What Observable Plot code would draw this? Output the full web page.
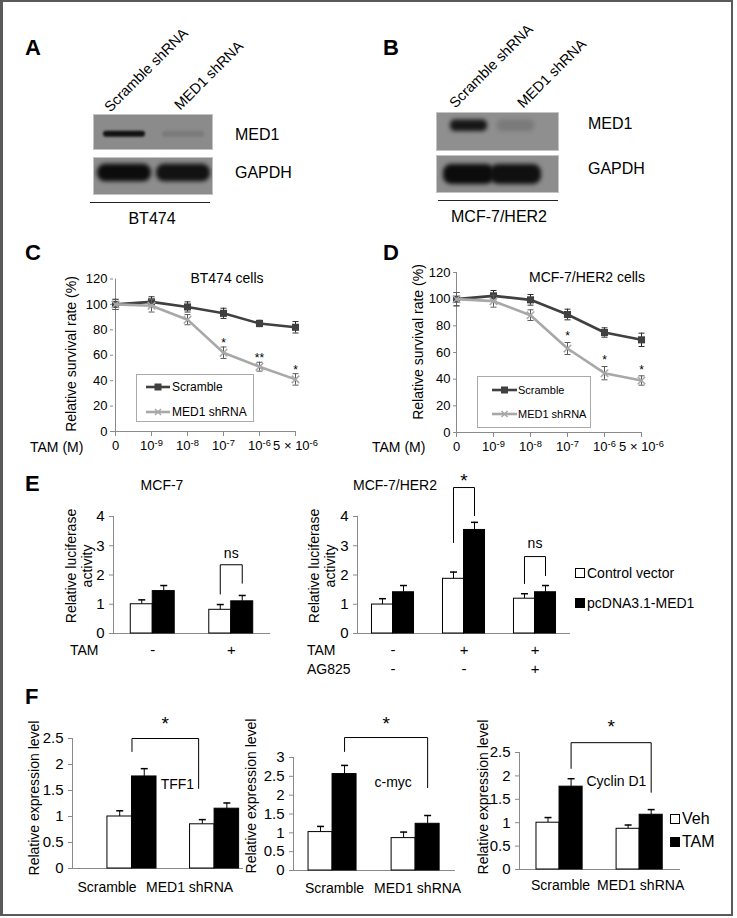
<!DOCTYPE html>
<html>
<head>
<meta charset="utf-8">
<script src="https://cdn.jsdelivr.net/npm/d3@7"></script>
<script src="https://cdn.jsdelivr.net/npm/@observablehq/plot@0.6"></script>
<style>
html,body{margin:0;padding:0;background:#fff;}
#fig{position:relative;width:737px;height:918px;overflow:hidden;background:#fff;font-family:"Liberation Sans",Arial,Helvetica,sans-serif;color:#000;}
#frame{position:absolute;left:0;top:0;width:733px;height:916px;box-sizing:border-box;border-left:3px solid #5a5a5a;border-top:2px solid #5a5a5a;border-right:2px solid #5a5a5a;border-bottom:2px solid #5a5a5a;}
.abs{position:absolute;}
.t{position:absolute;white-space:nowrap;line-height:1;}
#fig svg g[aria-label="y-axis tick"], #fig svg g[aria-label="x-axis tick"]{stroke:#8a8a8a;}
#fig svg g[aria-label="y-axis"] .tick line, #fig svg g[aria-label="x-axis"] .tick line{stroke:#8a8a8a;}
#fig svg g[aria-label="y-axis"] .domain, #fig svg g[aria-label="x-axis"] .domain{display:none;}
</style>
</head>
<body>
<div id="fig"><div id="frame"></div></div>
<script>
// ================= DATA =================
// A / B western blots (relative band intensity per lane)
const blotLanes = ["Scramble shRNA", "MED1 shRNA"];
const bt474Med1Band = [0.95, 0.12];
const bt474GapdhBand = [1.0, 0.96];
const her2Med1Band = [0.92, 0.16];
const her2GapdhBand = [1.0, 0.97];

// C / D survival curves
const tamDoses = ["0", "10⁻⁹", "10⁻⁸", "10⁻⁷", "10⁻⁶", "5 × 10⁻⁶"];
const survivalTicks = [0, 20, 40, 60, 80, 100, 120];
const bt474Scramble = [100, 102, 98, 93, 85, 82];
const bt474ScrambleErr = [4, 4, 4, 4, 2.5, 4.5];
const bt474Med1 = [100, 99, 88, 62, 51, 41];
const bt474Med1Err = [4, 5, 4, 4.5, 3.5, 4.5];
const bt474Sig = ["", "", "", "*", "**", "*"];
const her2Scramble = [100, 102.5, 99.5, 88.5, 75, 69.5];
const her2ScrambleErr = [5, 4, 4, 4, 3.5, 5];
const her2Med1 = [100, 98.5, 88, 63, 44.5, 39];
const her2Med1Err = [5, 4.5, 4, 4.5, 5, 3.5];
const her2Sig = ["", "", "", "*", "*", "*"];

// E luciferase
const lucTicks = [0, 1, 2, 3, 4];
const mcf7Tam = ["-", "+"];
const mcf7Control = [1.0, 0.81];
const mcf7ControlErr = [0.15, 0.18];
const mcf7Med1 = [1.45, 1.1];
const mcf7Med1Err = [0.19, 0.2];
const her2Tam = ["-", "+", "+"];
const her2AG825 = ["-", "-", "+"];
const her2Control = [0.99, 1.87, 1.19];
const her2ControlErr = [0.2, 0.23, 0.17];
const her2Pc = [1.41, 3.54, 1.41];
const her2PcErr = [0.23, 0.26, 0.23];

// F qPCR
const fGroups = ["Scramble", "MED1 shRNA"];
const tff1Veh = [1.0, 0.85], tff1VehErr = [0.11, 0.09];
const tff1Tam = [1.77, 1.15], tff1TamErr = [0.15, 0.11];
const mycVeh = [1.02, 0.86], mycVehErr = [0.15, 0.16];
const mycTam = [2.56, 1.24], mycTamErr = [0.23, 0.22];
const ccnd1Veh = [1.0, 0.87], ccnd1VehErr = [0.11, 0.08];
const ccnd1Tam = [1.77, 1.17], ccnd1TamErr = [0.17, 0.11];
const exprTicks25 = [0, 0.5, 1, 1.5, 2, 2.5];
const exprTicks3 = [0, 0.5, 1, 1.5, 2, 2.5, 3];

// ================= HELPERS =================
const AX = "#8a8a8a";
const FONT = '"Liberation Sans", Arial, Helvetica, sans-serif';
const fig = document.getElementById("fig");
const cap = { draw(ctx, size) { const w = Math.sqrt(size / Math.PI); ctx.moveTo(-w, 0); ctx.lineTo(w, 0); } };
const SUP = {"⁻": "-", "⁰": "0", "¹": "1", "²": "2", "³": "3", "⁴": "4", "⁵": "5", "⁶": "6", "⁷": "7", "⁸": "8", "⁹": "9"};

function frame(left, top, width, height, x0, x1, yTop, yZero) {
  return { width, height, marginLeft: x0 - left, marginRight: left + width - x1, marginTop: yTop - top, marginBottom: top + height - yZero };
}
function place(node, left, top, width) {
  const d = document.createElement("div");
  d.className = "abs";
  d.style.left = left + "px"; d.style.top = top + "px"; d.style.width = width + "px";
  d.appendChild(node); fig.appendChild(d); return d;
}
// turn unicode superscripts in tick labels into real raised tspans
function raiseSuperscripts(svg) {
  svg.querySelectorAll("text").forEach(t => {
    const s = t.textContent;
    const m = s.match(/^(.*?)([⁻⁰¹²³⁴⁵⁶⁷⁸⁹]+)$/);
    if (!m) return;
    t.textContent = m[1];
    const sp = document.createElementNS("http://www.w3.org/2000/svg", "tspan");
    sp.setAttribute("dy", "-0.45em");
    sp.setAttribute("font-size", "0.72em");
    sp.textContent = [...m[2]].map(c => SUP[c]).join("");
    t.appendChild(sp);
  });
}
function txt(content, x, y, o = {}) {
  const d = document.createElement("div");
  d.className = "t";
  d.innerHTML = content;
  d.style.fontSize = (o.size || 14) + "px";
  if (o.bold) d.style.fontWeight = "bold";
  if (o.lh) { d.style.lineHeight = o.lh + "px"; d.style.textAlign = "center"; }
  d.style.left = x + "px"; d.style.top = y + "px";
  const tx = o.anchor === "start" ? "0" : o.anchor === "end" ? "-100%" : "-50%";
  d.style.transform = `translate(${tx},-50%)` + (o.rotate ? ` rotate(${o.rotate}deg)` : "");
  fig.appendChild(d); return d;
}
function slanted(content, bx, by, size) {
  const d = document.createElement("div");
  d.className = "t";
  d.textContent = content;
  d.style.fontSize = size + "px";
  d.style.left = bx + "px"; d.style.top = (by - size) + "px";
  d.style.transformOrigin = "0 100%";
  d.style.transform = "rotate(-45deg)";
  fig.appendChild(d);
}

function blot(bandVals, o) {
  const marks = blotLanes.map((lane, i) => Plot.barY([{lane}], {
    x: "lane", y1: o.center - o.thick / 2, y2: o.center + o.thick / 2,
    fill: "#0c0c0c", fillOpacity: bandVals[i], insetLeft: o.inset, insetRight: o.inset, rx: o.rx
  }));
  const svg = Plot.plot({
    width: o.w, height: o.h, marginTop: 0, marginRight: 0, marginBottom: 0, marginLeft: 0,
    x: {type: "band", domain: blotLanes, paddingInner: o.pi, paddingOuter: o.po, align: o.align, axis: null},
    y: {domain: [0, 1], axis: null},
    style: {background: o.bg, overflow: "hidden", outline: "1px solid #c4c4c4", outlineOffset: "-1px"},
    marks
  });
  svg.querySelectorAll("rect").forEach(r => r.style.filter = `blur(${o.blur}px)`);
  place(svg, o.left, o.top, o.w);
}

function survival(o) {
  const S = o.scr.map((v, i) => ({dose: tamDoses[i], v, e: o.scrErr[i]}));
  const M = o.med.map((v, i) => ({dose: tamDoses[i], v, e: o.medErr[i], sig: o.sig[i]}));
  const errMarks = (D, color) => [
    Plot.ruleX(D, {x: "dose", y1: d => d.v - d.e, y2: d => d.v + d.e, stroke: color, strokeWidth: 1}),
    Plot.dot(D, {x: "dose", y: d => d.v - d.e, symbol: cap, r: 3, stroke: color, fill: "none", strokeWidth: 1}),
    Plot.dot(D, {x: "dose", y: d => d.v + d.e, symbol: cap, r: 3, stroke: color, fill: "none", strokeWidth: 1})
  ];
  const svg = Plot.plot({
    ...frame(o.left, o.top, o.width, o.height, o.x0, o.x1, o.yTop, o.yZero),
    style: {background: "transparent", fontFamily: FONT, fontSize: "13px", color: "#000", overflow: "visible"},
    x: {type: "point", domain: tamDoses, padding: 0, tickSize: 5, tickPadding: 4, label: null},
    y: {domain: [0, 120], ticks: survivalTicks, tickSize: 3, tickPadding: 3, label: null},
    marks: [
      Plot.ruleY([0], {stroke: AX}),
      Plot.ruleX([tamDoses[0]], {y1: 0, y2: 120, stroke: AX}),
      ...errMarks(S, "#2e2e2e"),
      Plot.line(S, {x: "dose", y: "v", stroke: "#404040", strokeWidth: 2.6}),
      Plot.dot(S, {x: "dose", y: "v", symbol: "square", r: 4, fill: "#404040", stroke: "none"}),
      ...errMarks(M, "#5c5c5c"),
      Plot.line(M, {x: "dose", y: "v", stroke: "#a8a8a8", strokeWidth: 2.6}),
      Plot.dot(M, {x: "dose", y: "v", symbol: "times", r: 3.5, stroke: "#a8a8a8", strokeWidth: 1.5}),
      Plot.text(M, {x: "dose", y: d => d.v + d.e, text: "sig", dy: o.starDy, fontSize: 12})
    ]
  });
  raiseSuperscripts(svg);
  place(svg, o.left, o.top, o.width);
}

function bars(o) {
  const rows = [];
  o.veh.forEach((v, i) => {
    rows.push({g: i, s: 0, v, e: o.vehErr[i], x1: i - o.bw, x2: i, xc: i - o.bw / 2});
    rows.push({g: i, s: 1, v: o.trt[i], e: o.trtErr[i], x1: i, x2: i + o.bw, xc: i + o.bw / 2});
  });
  const bpts = [], blabels = [];
  o.brackets.forEach((b, k) => {
    const xa = b.g[0] + b.sh[0] * o.bw, xb = b.g[1] + b.sh[1] * o.bw;
    bpts.push({id: k, x: xa, y: b.lo[0]}, {id: k, x: xa, y: b.top}, {id: k, x: xb, y: b.top}, {id: k, x: xb, y: b.lo[1]});
    blabels.push({x: (xa + xb) / 2, y: b.top, label: b.label, dy: b.dy, size: b.size});
  });
  const svg = Plot.plot({
    ...frame(o.left, o.top, o.width, o.height, o.x0, o.x1, o.yTop, o.yZero),
    style: {background: "transparent", fontFamily: FONT, fontSize: o.tickFont + "px", color: "#000", overflow: "visible"},
    x: {domain: o.xDomain, axis: null},
    y: {domain: [0, o.yMax], ticks: o.yTicks, tickSize: 4, tickPadding: 5, tickFormat: d => String(d), label: null},
    marks: [
      Plot.ruleY([0], {stroke: AX}),
      Plot.ruleX([o.xDomain[0]], {y1: 0, y2: o.yMax, stroke: AX}),
      Plot.ruleX(rows, {x: "xc", y1: "v", y2: d => d.v + d.e, stroke: "#000"}),
      Plot.dot(rows, {x: "xc", y: d => d.v + d.e, symbol: cap, r: 3.5, stroke: "#000", fill: "none"}),
      Plot.rect(rows.filter(d => d.s === 0), {x1: "x1", x2: "x2", y1: 0, y2: "v", fill: "#fff", stroke: "#000"}),
      Plot.rect(rows.filter(d => d.s === 1), {x1: "x1", x2: "x2", y1: 0, y2: "v", fill: "#000", stroke: "#000"}),
      Plot.line(bpts, {x: "x", y: "y", z: "id", stroke: "#000", strokeWidth: 1}),
      ...blabels.map(l => Plot.text([l], {x: "x", y: "y", text: "label", dy: l.dy, fontSize: l.size})),
      ...(o.extra || [])
    ]
  });
  place(svg, o.left, o.top, o.width);
}

// ================= PANELS A / B =================
blot(bt474Med1Band, {left: 93, top: 114, w: 120, h: 36, center: 0.45, thick: 0.17, inset: 0, rx: 3, pi: 0.29, po: 0.16, align: 0.53, bg: "#8b8b8b", blur: 1.2});
blot(bt474GapdhBand, {left: 93, top: 157, w: 120, h: 38, center: 0.59, thick: 0.46, inset: -6, rx: 8, pi: 0.29, po: 0.16, align: 0.53, bg: "#8d8d8d", blur: 2.2});
blot(her2Med1Band, {left: 436, top: 112, w: 123, h: 39, center: 0.66, thick: 0.3, inset: 0, rx: 5, pi: 0.21, po: 0.41, align: 0.35, bg: "#8f8f8f", blur: 2.2});
blot(her2GapdhBand, {left: 436, top: 155, w: 123, h: 38, center: 0.5, thick: 0.52, inset: -7, rx: 8, pi: 0.21, po: 0.41, align: 0.35, bg: "#8d8d8d", blur: 2.2});

// ================= PANELS C / D =================
survival({scr: bt474Scramble, scrErr: bt474ScrambleErr, med: bt474Med1, medErr: bt474Med1Err, sig: bt474Sig,
  left: 20, top: 262, width: 300, height: 198, x0: 113, x1: 296, yTop: 278.5, yZero: 431, starDy: -4});
survival({scr: her2Scramble, scrErr: her2ScrambleErr, med: her2Med1, medErr: her2Med1Err, sig: her2Sig,
  left: 380, top: 258, width: 290, height: 202, x0: 456, x1: 641, yTop: 272, yZero: 432, starDy: -6});

// ================= PANEL E =================
bars({veh: mcf7Control, vehErr: mcf7ControlErr, trt: mcf7Med1, trtErr: mcf7Med1Err, bw: 0.28,
  xDomain: [-0.5, 1.5], yMax: 4, yTicks: lucTicks, tickFont: 15,
  left: 80, top: 470, width: 200, height: 195, x0: 113, x1: 270, yTop: 516, yZero: 633,
  brackets: [{g: [1, 1], sh: [-0.5, 0.5], lo: [1.35, 1.72], top: 2.35, label: "ns", dy: -11, size: 14}],
  extra: [Plot.text(mcf7Tam, {x: (d, i) => i, y: 0, text: d => d, dy: 17, fontSize: 15})]});
bars({veh: her2Control, vehErr: her2ControlErr, trt: her2Pc, trtErr: her2PcErr, bw: 0.296,
  xDomain: [-0.5, 2.5], yMax: 4, yTicks: lucTicks, tickFont: 15,
  left: 320, top: 460, width: 260, height: 220, x0: 357, x1: 570, yTop: 516, yZero: 633,
  brackets: [
    {g: [1, 1], sh: [-0.5, 0.5], lo: [3.11, 4.03], top: 4.99, label: "*", dy: -7, size: 19},
    {g: [2, 2], sh: [-0.5, 0.5], lo: [1.71, 1.98], top: 2.63, label: "ns", dy: -13, size: 14}],
  extra: [
    Plot.text(her2Tam, {x: (d, i) => i, y: 0, text: d => d, dy: 17, fontSize: 15}),
    Plot.text(her2AG825, {x: (d, i) => i, y: 0, text: d => d, dy: 36, fontSize: 15})]});

// ================= PANEL F =================
bars({veh: tff1Veh, vehErr: tff1VehErr, trt: tff1Tam, trtErr: tff1TamErr, bw: 0.297,
  xDomain: [-0.72, 1.35], yMax: 2.5, yTicks: exprTicks25, tickFont: 15,
  left: 28, top: 700, width: 222, height: 200, x0: 72, x1: 243, yTop: 738, yZero: 868,
  brackets: [{g: [0, 1], sh: [0, -0.65], lo: [2.25, 1.54], top: 2.5, label: "*", dy: -15, size: 19}],
  extra: [
    Plot.text(fGroups, {x: (d, i) => i, y: 0, text: d => d, dy: 19, dx: -25, fontSize: 14}),
    Plot.text(["TFF1"], {x: 0.55, y: 1.62, text: d => d, fontSize: 14})]});
bars({veh: mycVeh, vehErr: mycVehErr, trt: mycTam, trtErr: mycTamErr, bw: 0.289,
  xDomain: [-0.47, 1.48], yMax: 3, yTicks: exprTicks3, tickFont: 15,
  left: 258, top: 700, width: 207, height: 200, x0: 293, x1: 455, yTop: 757, yZero: 870,
  brackets: [{g: [0, 1], sh: [0.5, 0.5], lo: [3.16, 2.2], top: 3.53, label: "*", dy: -14, size: 19}],
  extra: [
    Plot.text(fGroups, {x: (d, i) => i, y: 0, text: d => d, dy: 18, dx: 2, fontSize: 14}),
    Plot.text(["c-myc"], {x: 0.73, y: 2.33, text: d => d, fontSize: 14})]});
bars({veh: ccnd1Veh, vehErr: ccnd1VehErr, trt: ccnd1Tam, trtErr: ccnd1TamErr, bw: 0.288,
  xDomain: [-0.5, 1.51], yMax: 2.5, yTicks: exprTicks25, tickFont: 15,
  left: 488, top: 700, width: 202, height: 200, x0: 519, x1: 680, yTop: 752, yZero: 869,
  brackets: [{g: [0, 1], sh: [0.5, 0.5], lo: [2.16, 1.65], top: 2.71, label: "*", dy: -16, size: 19}],
  extra: [
    Plot.text(fGroups, {x: (d, i) => i, y: 0, text: d => d, dy: 16, dx: 1, fontSize: 14}),
    Plot.text(["Cyclin D1"], {x: 0.71, y: 1.88, text: d => d, fontSize: 14})]});

// ================= OVERLAY (legend swatches, rules) =================
const overlay = `
<svg class="abs" style="left:0;top:0;pointer-events:none" width="737" height="918">
  <line x1="90" x2="210" y1="202.5" y2="202.5" stroke="#222" stroke-width="1"/>
  <line x1="438" x2="558" y1="200.5" y2="200.5" stroke="#222" stroke-width="1"/>
  <rect x="136.5" y="374.5" width="117" height="47" fill="#fff" stroke="#aaa"/>
  <line x1="146" x2="170" y1="387" y2="387" stroke="#404040" stroke-width="2.6"/>
  <rect x="154.5" y="383.5" width="7" height="7" fill="#404040"/>
  <line x1="146" x2="170" y1="412" y2="412" stroke="#a8a8a8" stroke-width="2.6"/>
  <path d="M155,409L161,415M161,409L155,415" stroke="#a8a8a8" stroke-width="1.5"/>
  <rect x="477.5" y="376.5" width="113" height="51" fill="#fff" stroke="#aaa"/>
  <line x1="492" x2="517" y1="390" y2="390" stroke="#404040" stroke-width="2.6"/>
  <rect x="501" y="386.5" width="7" height="7" fill="#404040"/>
  <line x1="492" x2="517" y1="414" y2="414" stroke="#a8a8a8" stroke-width="2.6"/>
  <path d="M501.5,411L507.5,417M507.5,411L501.5,417" stroke="#a8a8a8" stroke-width="1.5"/>
  <rect x="575.5" y="568.5" width="9" height="9" fill="#fff" stroke="#000"/>
  <rect x="575.5" y="598.5" width="9" height="9" fill="#000" stroke="#000"/>
  <rect x="670.5" y="814.5" width="9" height="9" fill="#fff" stroke="#000"/>
  <rect x="670.5" y="837.5" width="9" height="9" fill="#000" stroke="#000"/>
</svg>`;
fig.insertAdjacentHTML("beforeend", overlay);

// ================= TEXT =================
[["A", 25, 47.5], ["B", 383, 47.5], ["C", 25, 252.5], ["D", 383, 253], ["E", 25, 483.5], ["F", 25, 697]]
  .forEach(([s, x, y]) => txt(s, x, y, {size: 22, bold: true, anchor: "start"}));

slanted("Scramble shRNA", 112, 114, 14.5);
slanted("MED1 shRNA", 182, 112, 14.5);
slanted("Scramble shRNA", 457, 110, 14.5);
slanted("MED1 shRNA", 525, 110, 14.5);

txt("MED1", 235, 135, {size: 16, anchor: "start"});
txt("GAPDH", 235, 172.5, {size: 16, anchor: "start"});
txt("MED1", 588, 124, {size: 16, anchor: "start"});
txt("GAPDH", 588, 169, {size: 16, anchor: "start"});
txt("BT474", 152, 218.5, {size: 16});
txt("MCF-7/HER2", 499, 216.5, {size: 16});

txt("BT474 cells", 227, 277.5, {size: 14});
txt("MCF-7/HER2 cells", 587, 277, {size: 14});
txt("Relative survival rate (%)", 71, 354, {size: 14, rotate: -90});
txt("Relative survival rate (%)", 418, 342, {size: 14, rotate: -90});
txt("TAM (M)", 30, 447, {size: 14, anchor: "start"});
txt("TAM (M)", 372, 447, {size: 14, anchor: "start"});
txt("Scramble", 172, 387, {size: 12, anchor: "start"});
txt("MED1 shRNA", 172, 412, {size: 12, anchor: "start"});
txt("Scramble", 518, 390, {size: 11, anchor: "start"});
txt("MED1 shRNA", 518, 414, {size: 11, anchor: "start"});

txt("MCF-7", 162, 485, {size: 14});
txt("MCF-7/HER2", 395, 485, {size: 14});
txt("Relative luciferase<br>activity", 79, 566, {size: 14, lh: 16, rotate: -90});
txt("Relative luciferase<br>activity", 322, 566, {size: 14, lh: 16, rotate: -90});
txt("TAM", 70, 650, {size: 14, anchor: "start"});
txt("TAM", 307, 650, {size: 14, anchor: "start"});
txt("AG825", 307, 669, {size: 14, anchor: "start"});
txt("Control vector", 587, 573, {size: 14, anchor: "start"});
txt("pcDNA3.1-MED1", 587, 603, {size: 14, anchor: "start"});

txt("Relative expression level", 34, 798, {size: 14, rotate: -90});
txt("Relative expression level", 251, 796, {size: 14, rotate: -90});
txt("Relative expression level", 483, 797, {size: 14, rotate: -90});
txt("Veh", 682, 819, {size: 16, anchor: "start"});
txt("TAM", 682, 842, {size: 16, anchor: "start"});
</script>
</body>
</html>
